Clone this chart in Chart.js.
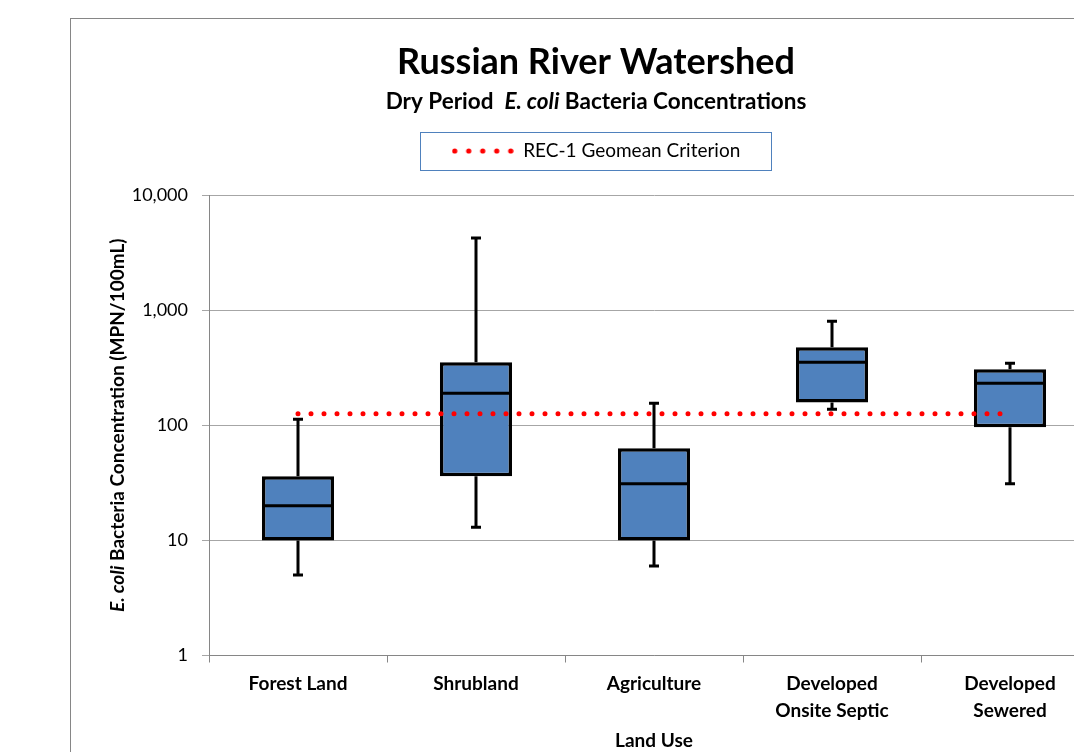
<!DOCTYPE html>
<html>
<head>
<meta charset="utf-8">
<script src="https://cdn.jsdelivr.net/npm/chart.js@4.4.0/dist/chart.umd.min.js"></script>
<style>
html, body { margin: 0; padding: 0; background: #fff; overflow: hidden; }
#frame { position: absolute; left: 70px; top: 18px; width: 1080px; height: 800px; border: 1px solid #868686; background: #fff; }
#wrap { position: absolute; left: 0; top: 0; width: 1050px; height: 760px; }
</style>
</head>
<body>
<div id="frame"><div id="wrap"><canvas id="boxChart"></canvas></div></div>
<script>
const categories = ['Forest Land', 'Shrubland', 'Agriculture', ['Developed', 'Onsite Septic'], ['Developed', 'Sewered']];
const whiskerLow = [5, 13, 6, 138, 31];
const q1 = [10, 36, 10, 158, 96];
const median = [20, 190, 31, 353, 232];
const q3 = [36, 353, 63, 476, 307];
const whiskerHigh = [113, 4230, 155, 802, 346];
const criterion = [126, 126, 126, 126, 126];
const yTicks = [1, 10, 100, 1000, 10000];

const FONT = 'Lato';
const subtitleText = 'Dry Period  E. coli Bacteria Concentrations';

// five red dots for the legend marker
const dotCanvas = document.createElement('canvas');
dotCanvas.width = 62;
dotCanvas.height = 8;
(function () {
    const c = dotCanvas.getContext('2d');
    c.fillStyle = '#FF0000';
    for (let i = 0; i < 5; i++) {
        c.beginPath();
        c.arc(3 + i * 14, 4, 2.6, 0, Math.PI * 2);
        c.fill();
    }
})();

function drawRich(ctx, parts, cx, cy) {
    let total = 0;
    parts.forEach(p => { ctx.font = p.font; total += ctx.measureText(p.text).width; });
    let x = cx - total / 2;
    ctx.textBaseline = 'middle';
    ctx.textAlign = 'left';
    ctx.fillStyle = '#000';
    parts.forEach(p => {
        ctx.font = p.font;
        ctx.fillText(p.text, x, cy);
        x += ctx.measureText(p.text).width;
    });
}

const boxPlugin = {
    id: 'boxWhiskers',
    afterInit(chart) {
        // leave a gap between the legend and the plot
        const lg = chart.legend;
        if (lg) {
            const fit = lg.fit.bind(lg);
            lg.fit = function () { fit(); this.height += 24.5; };
        }
    },
    afterDatasetDraw(chart, args) {
        if (args.index !== 0) return;
        const ctx = chart.ctx;
        const y = chart.scales.y;
        ctx.save();
        ctx.strokeStyle = '#000';
        ctx.lineWidth = 3;
        args.meta.data.forEach((bar, i) => {
            const x = bar.x, half = bar.width / 2, cap = 5;
            const yLo = y.getPixelForValue(whiskerLow[i]);
            const yQ1 = y.getPixelForValue(q1[i]);
            const yMed = y.getPixelForValue(median[i]);
            const yQ3 = y.getPixelForValue(q3[i]);
            const yHi = y.getPixelForValue(whiskerHigh[i]);
            ctx.beginPath();
            ctx.moveTo(x, yQ1); ctx.lineTo(x, yLo);
            ctx.moveTo(x - cap, yLo); ctx.lineTo(x + cap, yLo);
            ctx.moveTo(x, yQ3); ctx.lineTo(x, yHi);
            ctx.moveTo(x - cap, yHi); ctx.lineTo(x + cap, yHi);
            ctx.moveTo(x - half + 1, yMed); ctx.lineTo(x + half - 1, yMed);
            ctx.stroke();
        });
        ctx.restore();
    }
};

const textPlugin = {
    id: 'richText',
    afterDraw(chart) {
        const ctx = chart.ctx;
        ctx.save();
        // subtitle with italic species name
        const sub = chart.boxes.find(b => b.options && b.options.text === subtitleText);
        if (sub) {
            const cy = sub.top + sub.height / 2 + (sub.options.padding.top - sub.options.padding.bottom) / 2;
            drawRich(ctx, [
                { text: 'Dry Period  ', font: 'bold 22.5px ' + FONT },
                { text: 'E. coli', font: 'italic bold 22.5px ' + FONT },
                { text: ' Bacteria Concentrations', font: 'bold 22.5px ' + FONT }
            ], chart.width / 2, cy);
        }
        // y axis title
        const ys = chart.scales.y;
        ctx.translate(ys.left + 25, (chart.chartArea.top + chart.chartArea.bottom) / 2);
        ctx.rotate(-Math.PI / 2);
        drawRich(ctx, [
            { text: 'E. coli', font: 'italic bold 19px ' + FONT },
            { text: ' Bacteria Concentration (MPN/100mL)', font: 'bold 19px ' + FONT }
        ], 0, 0);
        ctx.restore();
        // legend frame
        const hb = chart.legend.legendHitBoxes[0];
        if (hb) {
            ctx.save();
            ctx.strokeStyle = '#4F81BD';
            ctx.lineWidth = 1;
            const cy = hb.top + hb.height / 2;
            ctx.strokeRect(Math.round(hb.left - 32) + 0.5, Math.round(cy - 19) + 0.5, Math.round(hb.width + 62), 38);
            ctx.restore();
        }
    }
};

const ctx = document.getElementById('boxChart').getContext('2d');
window.boxChart = new Chart(ctx, {
    type: 'bar',
    data: {
        labels: categories,
        datasets: [
            {
                label: 'Box',
                data: categories.map((c, i) => [q1[i], q3[i]]),
                backgroundColor: '#4F81BD',
                borderColor: '#000',
                borderWidth: 3.5,
                borderSkipped: false,
                barPercentage: 0.405,
                categoryPercentage: 1,
                order: 1
            },
            {
                type: 'line',
                label: 'REC-1 Geomean Criterion',
                data: criterion,
                borderColor: '#FF0000',
                borderWidth: 5,
                borderDash: [0, 13],
                borderCapStyle: 'round',
                pointRadius: 0,
                fill: false,
                order: 0
            }
        ]
    },
    options: {
        responsive: true,
        maintainAspectRatio: false,
        animation: false,
        layout: { padding: { left: 22, right: 22, top: 0, bottom: 28.3 } },
        plugins: {
            tooltip: { enabled: false },
            title: {
                display: true,
                text: 'Russian River Watershed',
                color: '#000',
                font: { family: FONT, size: 36, weight: 'bold' },
                padding: { top: 21.4, bottom: 0 }
            },
            subtitle: {
                display: true,
                text: subtitleText,
                color: 'rgba(0,0,0,0)',
                font: { family: FONT, size: 22, weight: 'bold' },
                padding: { top: 5.2, bottom: 14.3 }
            },
            legend: {
                display: true,
                position: 'top',
                labels: {
                    usePointStyle: true,
                    pointStyleWidth: 62,
                    color: '#000',
                    font: { family: FONT, size: 19 },
                    padding: 12,
                    generateLabels: () => [{
                        text: 'REC-1 Geomean Criterion',
                        pointStyle: dotCanvas,
                        fillStyle: '#FF0000',
                        strokeStyle: '#FF0000',
                        lineWidth: 0,
                        hidden: false,
                        datasetIndex: 1,
                        fontColor: '#000'
                    }]
                }
            }
        },
        scales: {
            x: {
                grid: { drawOnChartArea: false, drawTicks: true, tickLength: 7, color: '#868686', offset: true },
                border: { color: '#868686' },
                ticks: { color: '#000', font: { family: FONT, size: 19, weight: 'bold', lineHeight: 1.4 }, padding: 8, maxRotation: 0, autoSkip: false },
                title: { display: true, text: 'Land Use', color: '#000', font: { family: FONT, size: 19, weight: 'bold', lineHeight: 1.0 }, padding: { top: 0, bottom: 0 } }
            },
            y: {
                type: 'logarithmic',
                min: 1,
                max: 10000,
                afterBuildTicks: ax => { ax.ticks = yTicks.map(v => ({ value: v })); },
                afterFit: ax => { ax.width = 116; },
                ticks: {
                    color: '#000',
                    font: { family: FONT, size: 18 },
                    padding: 14,
                    callback: v => Number(v).toLocaleString('en-US')
                },
                grid: { color: '#A6A6A6', tickLength: 7 },
                border: { color: '#868686' }
            }
        }
    },
    plugins: [boxPlugin, textPlugin]
});
</script>
</body>
</html>
